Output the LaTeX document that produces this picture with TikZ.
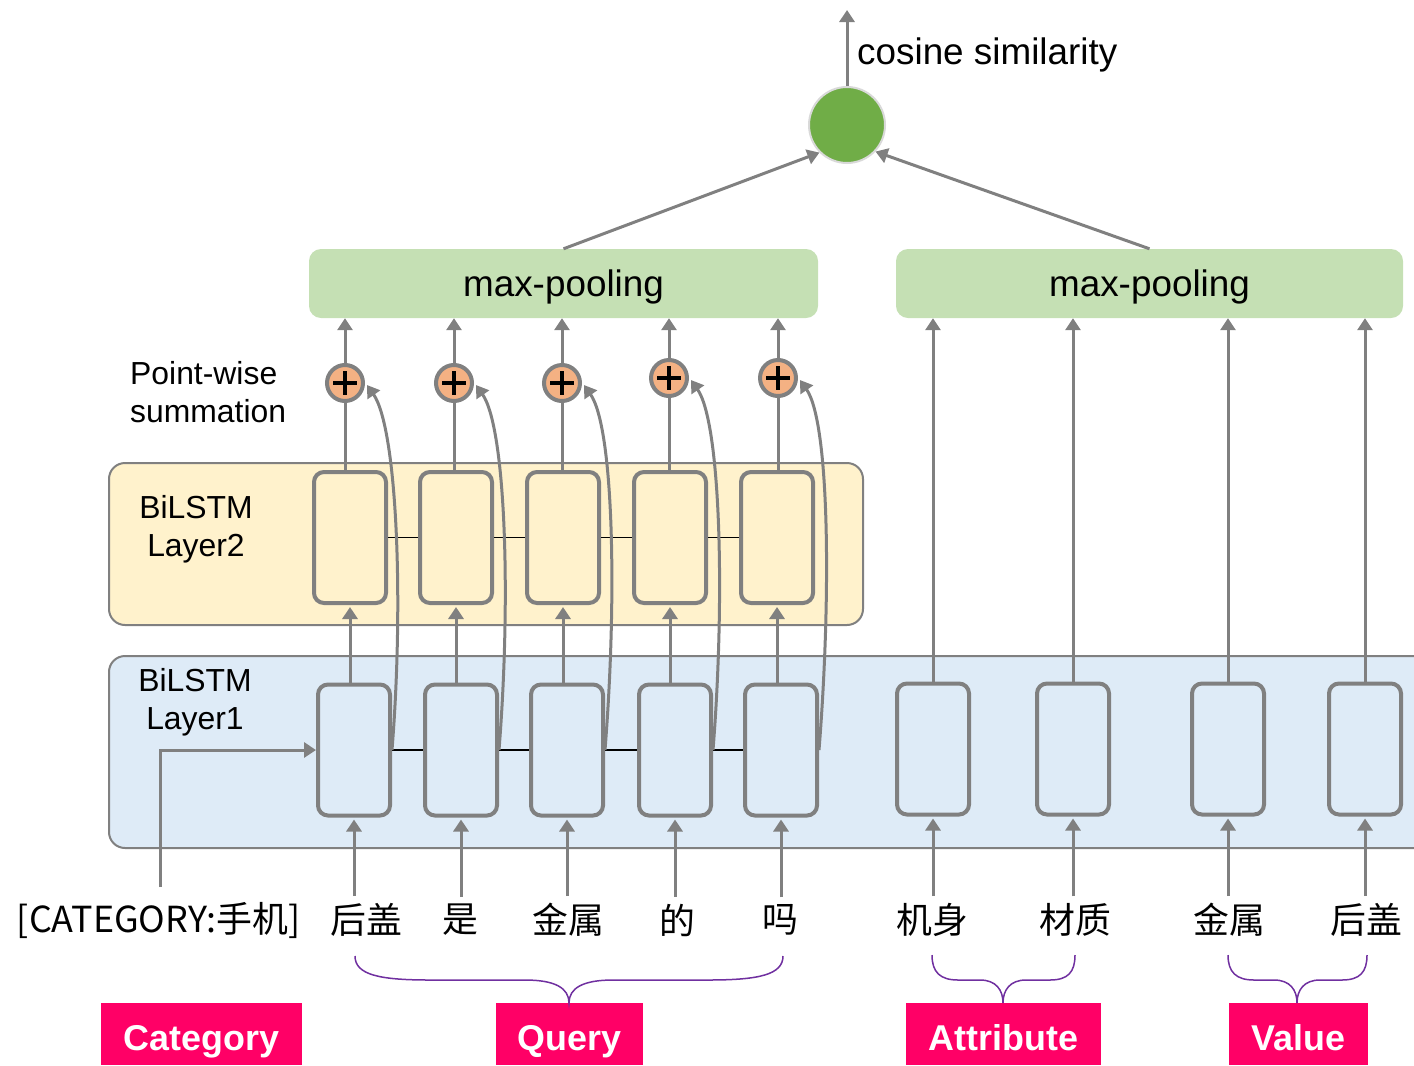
\documentclass[tikz,border=0pt]{standalone}
\usepackage{fontspec}
\setmainfont{Liberation Sans}
\newfontfamily\cjk{Noto Sans CJK SC}
\usetikzlibrary{arrows.meta,calc}
\definecolor{ltwo}{HTML}{FFF2CC}
\definecolor{lone}{HTML}{DEEBF7}
\definecolor{poolc}{HTML}{C5E0B4}
\definecolor{plusc}{HTML}{F4B183}
\definecolor{greenc}{HTML}{70AD47}
\definecolor{tagc}{HTML}{FF0066}
\definecolor{bracec}{HTML}{7030A0}
\definecolor{ringc}{HTML}{D9D9D9}
\begin{document}
\begin{tikzpicture}[x=1bp,y=-1bp,
  arr/.style={draw=gray, line width=3bp, -{Triangle[length=12bp,width=15bp]}},
  ln/.style={draw=gray, line width=3bp},
  link/.style={draw=black, line width=1.2bp},
  layerbox/.style={draw=gray, line width=2bp, rounded corners=16bp},
  cellA/.style={draw=gray, line width=4bp, rounded corners=10bp, minimum width=72bp, minimum height=131bp, fill=ltwo},
  cellB/.style={draw=gray, line width=4bp, rounded corners=10bp, minimum width=72bp, minimum height=131bp, fill=lone},
  plusnode/.style={circle, draw=gray, line width=4bp, fill=plusc, minimum size=36bp, inner sep=0pt,
    path picture={\draw[black, line width=4.5bp]
      ($(path picture bounding box.center)+(-12,0)$) -- ($(path picture bounding box.center)+(12,0)$)
      ($(path picture bounding box.center)+(0,-12)$) -- ($(path picture bounding box.center)+(0,12)$);}},
  pool/.style={fill=poolc, rounded corners=12bp, minimum height=69bp, text height=34bp, text depth=8bp, font=\fontsize{37}{44}\selectfont},
  word/.style={font=\cjk\fontsize{36}{40}\selectfont, inner sep=7bp},
  tag/.style={fill=tagc, text=white, font=\bfseries\fontsize{36}{40}\selectfont, minimum height=62bp, text height=32bp, text depth=0bp, inner sep=0pt},
  lbl/.style={font=\fontsize{32}{38}\selectfont, inner sep=0pt},
  brace/.style={draw=bracec, line width=1.5bp},
]
\useasboundingbox (0,0) rectangle (1414,1065);

% layer backgrounds
\draw[layerbox, fill=ltwo] (109,463) rectangle (863,625);
\draw[layerbox, fill=lone] (109,656) rectangle (1430,848);

% labels
\node[lbl, align=center] (lab2) at (196,529) {BiLSTM\\Layer2};
\node[lbl, align=center] (lab1) at (195,702) {BiLSTM\\Layer1};
\node[lbl, align=left, anchor=west] (pws) at (130,392) {Point-wise\\summation};

% max pooling
\node[pool, minimum width=509bp] (mp1) at (563.5,283.5) {max-pooling};
\node[pool, minimum width=507bp] (mp2) at (1149.5,283.5) {max-pooling};

% cosine node
\node[circle, fill=greenc, draw=ringc, line width=2bp, minimum size=76bp] (g) at (847,125) {};
\coordinate (top) at (847,10);
\node[anchor=west, font=\fontsize{37}{44}\selectfont, inner sep=0pt] (cos) at (857,55) {cosine similarity};

% layer 2 cells
\node[cellA] (u1) at (350,537.5) {};
\node[cellA] (u2) at (456,537.5) {};
\node[cellA] (u3) at (563,537.5) {};
\node[cellA] (u4) at (670,537.5) {};
\node[cellA] (u5) at (777,537.5) {};

% layer 1 cells
\node[cellB] (d1) at (354,750) {};
\node[cellB] (d2) at (461,750) {};
\node[cellB] (d3) at (567,750) {};
\node[cellB] (d4) at (675,750) {};
\node[cellB] (d5) at (781,750) {};
\node[cellB] (r1) at (933,749) {};
\node[cellB] (r2) at (1073,749) {};
\node[cellB] (r3) at (1228,749) {};
\node[cellB] (r4) at (1365,749) {};

% plus nodes
\node[plusnode] (p1) at (345,383) {};
\node[plusnode] (p2) at (454,383) {};
\node[plusnode] (p3) at (562,383) {};
\node[plusnode] (p4) at (669,378) {};
\node[plusnode] (p5) at (778,378) {};

% words
\node[word] (cat) at (158.5,920) {[CATEGORY:手机]};
\node[word] (w1) at (366,920) {后盖};
\node[word] (w2) at (460,920) {是};
\node[word] (w3) at (568,920) {金属};
\node[word] (w4) at (677,920) {的};
\node[word] (w5) at (780,920) {吗};
\node[word] (a1) at (932,920) {机身};
\node[word] (a2) at (1075,920) {材质};
\node[word] (v1) at (1229,920) {金属};
\node[word] (v2) at (1366,920) {后盖};

% tags
\node[tag, minimum width=201bp] (tcat) at (201.5,1034) {Category};
\node[tag, minimum width=147bp] (tq) at (569.5,1034) {Query};
\node[tag, minimum width=195bp] (ta) at (1003.5,1034) {Attribute};
\node[tag, minimum width=139bp] (tv) at (1298.5,1034) {Value};

% horizontal links
\foreach \a/\b in {u1/u2,u2/u3,u3/u4,u4/u5,d1/d2,d2/d3,d3/d4,d4/d5}
  \draw[link] (\a.east) -- (\b.west);

% query connections
\foreach \i in {1,...,5}{
  \draw[arr, shorten >=2bp] (d\i.south |- w\i.north) -- (d\i.south);
  \draw[arr, shorten >=2bp] (u\i.south |- d\i.north) -- (u\i.south);
  \draw[ln] (p\i |- u\i.north) -- (p\i.south);
  \draw[arr] (p\i.north) -- (p\i |- mp1.south);
  \draw[arr] (d\i.east) .. controls ($(d\i.east)+(12,-150)$) and ($(p\i)+(52,45)$) .. ($(p\i)+(22,2)$);
}

% right side connections
\draw[arr, shorten >=2bp] (r1.south |- a1.north) -- (r1.south);
\draw[arr, shorten >=2bp] (r2.south |- a2.north) -- (r2.south);
\draw[arr, shorten >=2bp] (r3.south |- v1.north) -- (r3.south);
\draw[arr, shorten >=2bp] (r4.south |- v2.north) -- (r4.south);
\foreach \i in {1,...,4}
  \draw[arr] (r\i.north) -- (r\i |- mp2.south);

% category
\coordinate (cs) at (160,887);
\draw[arr] (cs) |- (d1.west);

% to cosine
\draw[arr] (mp1.north) -- (g.225);
\draw[arr] (mp2.north) -- (g.-43);
\draw[arr] (g.north) -- (top);

% braces
\draw[brace] (355,956) .. controls (355,975) and (380,980) .. (430,980) -- (525,980)
  .. controls (555,980) and (569,988) .. (569,1003)
  .. controls (569,988) and (583,980) .. (613,980) -- (708,980)
  .. controls (758,980) and (783,975) .. (783,956);
\draw[brace] (932,955) .. controls (932,972) and (940,980) .. (958,980) -- (980,980)
  .. controls (996,980) and (1003,990) .. (1003,1003)
  .. controls (1003,990) and (1010,980) .. (1026,980) -- (1050,980)
  .. controls (1068,980) and (1075,972) .. (1075,955);
\draw[brace] (1228,955) .. controls (1228,972) and (1236,980) .. (1254,980) -- (1274,980)
  .. controls (1290,980) and (1297,990) .. (1297,1003)
  .. controls (1297,990) and (1304,980) .. (1320,980) -- (1342,980)
  .. controls (1360,980) and (1367,972) .. (1367,955);
\end{tikzpicture}
\end{document}
